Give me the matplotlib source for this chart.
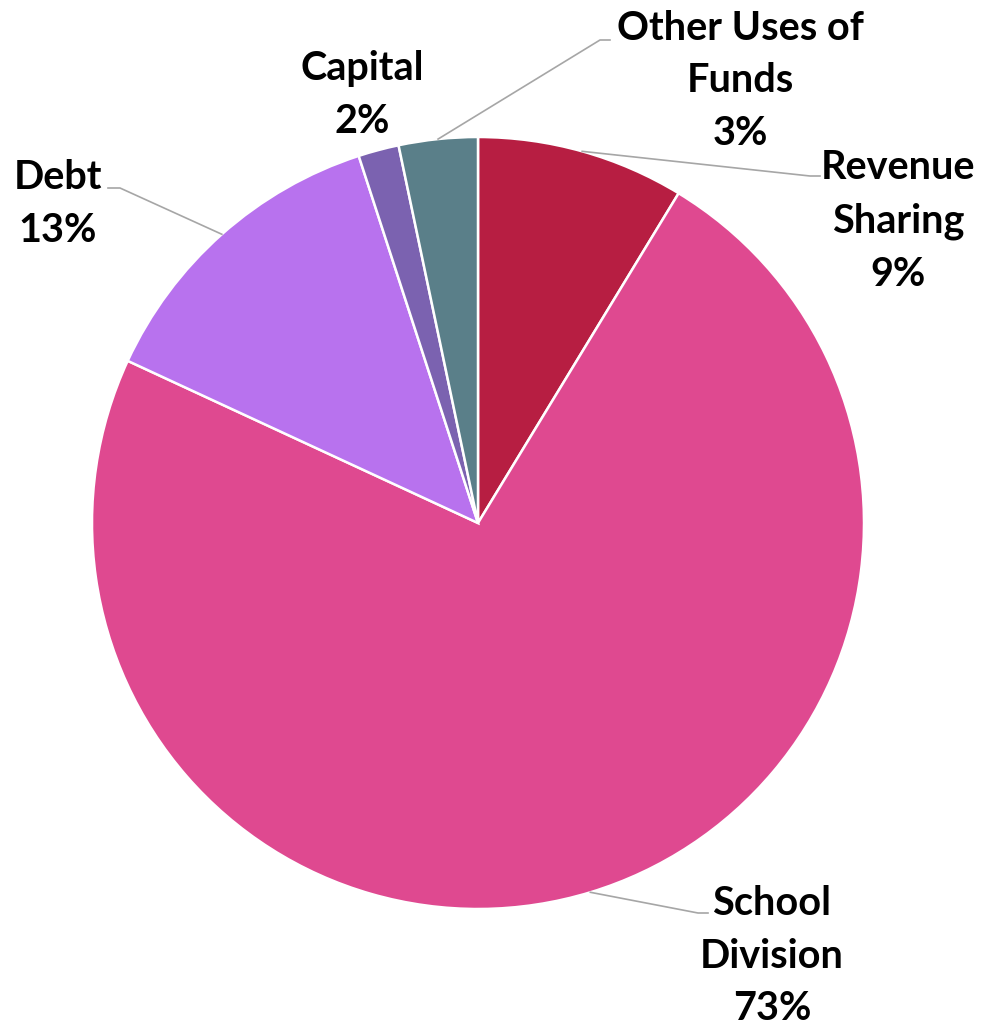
import numpy as np
import matplotlib.pyplot as plt

labels = ["Revenue\nSharing", "School\nDivision", "Debt", "Capital", "Other Uses of\nFunds"]
values = [8.7, 73.2, 13.1, 1.7, 3.3]
pct_labels = ["9%", "73%", "13%", "2%", "3%"]
colors = ["#B71E42", "#DF4990", "#B872EE", "#7B62B0", "#5A7F89"]

# layout in pixel space (y measured from top)
W, H = 985, 1026
cx, cy, R = 478, 523, 386
text_pos = [(898, 221), (772, 956), (58, 204), (362, 95), (740, 81)]
elbows = [[(810, 176), (820, 176)], [(698, 913), (708, 913)], [(120, 188), (108, 188)], None,
          [(600, 40), (610, 40)]]

plt.rcParams['font.family'] = ['Lato', 'DejaVu Sans']

fig = plt.figure(figsize=(W / 100, H / 100), dpi=100)
ax = fig.add_axes([0, 0, 1, 1])

ax.pie(values, colors=colors, startangle=90, counterclock=False,
       center=(cx, H - cy), radius=R, frame=True,
       wedgeprops=dict(edgecolor='white', linewidth=1.8))

total = sum(values)
cum = 0
for i, v in enumerate(values):
    mid = (cum + v / 2) / total * 2 * np.pi
    cum += v
    if elbows[i] is not None:
        sx = cx + R * np.sin(mid)
        sy = cy - R * np.cos(mid)
        pts = [(sx, sy)] + elbows[i]
        ax.plot([p[0] for p in pts], [H - p[1] for p in pts], color='#A6A6A6', lw=1.2)
    tx, ty = text_pos[i]
    ax.text(tx, H - ty, labels[i] + "\n" + pct_labels[i], ha='center', va='center',
            fontsize=28.5, fontweight='bold', color='black', linespacing=1.53)

ax.set_xlim(0, W)
ax.set_ylim(0, H)
ax.set_aspect('equal')
ax.axis('off')

fig.savefig('out.png', dpi=100)
